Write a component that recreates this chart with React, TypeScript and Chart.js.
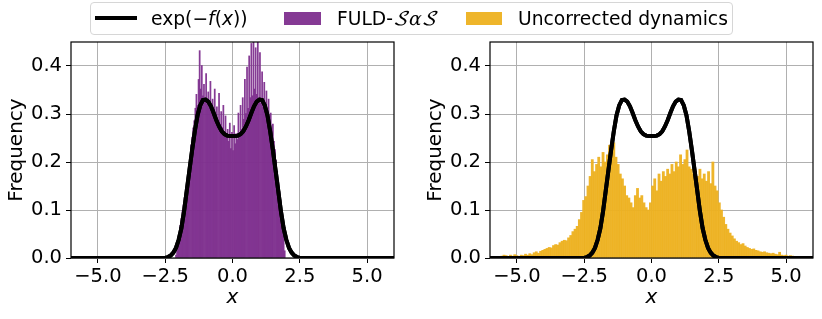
import React, { useEffect, useRef } from 'react';
import { Chart, registerables } from 'chart.js';

Chart.register(...registerables);

// ---------- data ----------
const X_TICKS = [-5, -2.5, 0, 2.5, 5];
const Y_TICKS = [0, 0.1, 0.2, 0.3, 0.4];

// exp(-f(x)) curve
const CURVE_X = [
  -6, -2.5, -2.4, -2.3, -2.2, -2.1, -2.0, -1.9, -1.8, -1.7, -1.6, -1.5, -1.4, -1.3, -1.2, -1.1,
  -1.0, -0.9, -0.8, -0.7, -0.6, -0.5, -0.4, -0.3, -0.2, -0.1, 0,
  0.1, 0.2, 0.3, 0.4, 0.5, 0.6, 0.7, 0.8, 0.9, 1.0, 1.1, 1.2, 1.3, 1.4, 1.5, 1.6, 1.7, 1.8,
  1.9, 2.0, 2.1, 2.2, 2.3, 2.4, 2.5, 6,
];
const CURVE_Y = [
  0, 0, 0.002, 0.005, 0.011, 0.021, 0.038, 0.062, 0.097, 0.14, 0.183, 0.225, 0.264, 0.297, 0.318, 0.329,
  0.33, 0.326, 0.316, 0.302, 0.287, 0.274, 0.264, 0.258, 0.255, 0.254, 0.254,
  0.254, 0.255, 0.258, 0.264, 0.274, 0.287, 0.302, 0.316, 0.326, 0.33, 0.329, 0.318, 0.297, 0.264, 0.225, 0.183, 0.14, 0.097,
  0.062, 0.038, 0.021, 0.011, 0.005, 0.002, 0, 0,
];

// FULD-SαS histogram (bin centres start at -2.10, width 0.04)
const FULD_FIRST_CENTER = -2.1;
const FULD_BIN_WIDTH = 0.04;
const FULD_FREQ = [
  0.006, 0.016, 0.031, 0.047, 0.068, 0.083, 0.099, 0.111, 0.126, 0.136,
  0.149, 0.167, 0.192, 0.208, 0.236, 0.252, 0.271, 0.286, 0.312, 0.341,
  0.318, 0.372, 0.432, 0.352, 0.401, 0.338, 0.362, 0.329, 0.384, 0.321,
  0.346, 0.312, 0.368, 0.303, 0.331, 0.298, 0.352, 0.292, 0.315, 0.288,
  0.343, 0.279, 0.305, 0.272, 0.318, 0.262, 0.296, 0.251, 0.268, 0.243,
  0.281, 0.228, 0.262, 0.224, 0.276, 0.238, 0.259, 0.247, 0.302, 0.256,
  0.318, 0.268, 0.334, 0.289, 0.372, 0.301, 0.398, 0.312, 0.421, 0.334,
  0.447, 0.338, 0.462, 0.352, 0.438, 0.341, 0.452, 0.332, 0.428, 0.322,
  0.388, 0.314, 0.366, 0.302, 0.348, 0.291, 0.331, 0.277, 0.302, 0.262,
  0.279, 0.243, 0.226, 0.204, 0.181, 0.161, 0.139, 0.121, 0.098, 0.074,
  0.046, 0.015,
];

// Uncorrected dynamics histogram (bin centres start at -5.56, width 0.08)
const UNCORR_FIRST_CENTER = -5.56;
const UNCORR_BIN_WIDTH = 0.08;
const UNCORR_FREQ = [
  0.004, 0.006, 0.005, 0.003, 0.006, 0.004, 0.007, 0.005, 0.003, 0.006,
  0.005, 0.008, 0.006, 0.009, 0.007, 0.011, 0.013, 0.010, 0.014, 0.016,
  0.018, 0.020, 0.022, 0.021, 0.026, 0.028, 0.027, 0.032, 0.035, 0.037,
  0.036, 0.042, 0.047, 0.055, 0.060, 0.066, 0.080, 0.095, 0.120, 0.128,
  0.150, 0.170, 0.205, 0.180, 0.195, 0.210, 0.190, 0.220, 0.200, 0.215,
  0.235, 0.220, 0.240, 0.210, 0.195, 0.175, 0.165, 0.150, 0.130, 0.125,
  0.115, 0.105, 0.130, 0.145, 0.125, 0.130, 0.115, 0.105, 0.100, 0.115,
  0.150, 0.165, 0.140, 0.175, 0.160, 0.180, 0.170, 0.185, 0.175, 0.195,
  0.180, 0.200, 0.190, 0.215, 0.195, 0.205, 0.225, 0.190, 0.185, 0.175,
  0.180, 0.170, 0.185, 0.165, 0.175, 0.160, 0.180, 0.155, 0.200, 0.150,
  0.140, 0.115, 0.100, 0.085, 0.070, 0.060, 0.052, 0.046, 0.040, 0.035,
  0.032, 0.028, 0.030, 0.025, 0.022, 0.020, 0.018, 0.019, 0.016, 0.015,
  0.013, 0.012, 0.013, 0.011, 0.010, 0.009, 0.010, 0.008, 0.007, 0.012,
  0.006, 0.005, 0.006, 0.004, 0.005, 0.004, 0.003, 0.003, 0.002, 0.003,
  0.002, 0.002, 0.001, 0.002, 0.001,
];

const LABEL_FULD = 'FULD-';
const LABEL_UNCORR = 'Uncorrected dynamics';
const PURPLE = 'rgba(126,47,142,0.95)';
const ORANGE = 'rgba(237,177,32,0.95)';

const FONT_FAMILY = '"DejaVu Sans", "Liberation Sans", sans-serif';
const TICK_SIZE = 19.5;
const TITLE_SIZE = 20;
const LEGEND_SIZE = 18.7;

// ---------- chart helpers ----------
const fmt = (v: number) => (v < 0 ? '−' : '') + Math.abs(v).toFixed(1);

const framePlugin = {
  id: 'frameAndCurve',
  afterDraw(chart: any) {
    const { ctx, chartArea: a } = chart;
    ctx.save();
    ctx.beginPath();
    ctx.rect(a.left, a.top, a.right - a.left, a.bottom - a.top);
    ctx.clip();
    chart.getDatasetMeta(0).controller.draw();
    ctx.restore();
    ctx.save();
    ctx.strokeStyle = '#000';
    ctx.lineWidth = 1.2;
    ctx.strokeRect(a.left, a.top, a.right - a.left, a.bottom - a.top);
    ctx.restore();
  },
};

function makeConfig(first: number, width: number, freq: number[], color: string, rightPad: number) {
  const bars = freq.map((y, i) => ({ x: first + i * width, y }));
  const curve = CURVE_X.map((x, i) => ({ x, y: CURVE_Y[i] }));
  const tickFont = { family: FONT_FAMILY, size: TICK_SIZE };
  return {
    type: 'bar',
    data: {
      datasets: [
        {
          type: 'line',
          data: curve,
          borderColor: '#000',
          borderWidth: 4,
          pointRadius: 0,
          tension: 0,
          clip: 0,
          order: 0,
        },
        {
          type: 'bar',
          data: bars,
          backgroundColor: color,
          borderWidth: 0,
          barPercentage: 1,
          categoryPercentage: 1,
          grouped: false,
          order: 1,
        },
      ],
    },
    options: {
      animation: false,
      responsive: false,
      maintainAspectRatio: false,
      events: [],
      layout: { padding: { left: 0, top: 42, right: rightPad, bottom: 0 } },
      plugins: { legend: { display: false }, tooltip: { enabled: false } },
      scales: {
        x: {
          type: 'linear',
          min: -6,
          max: 6,
          offset: false,
          z: 1,
          afterBuildTicks: (s: any) => {
            s.ticks = X_TICKS.map((v) => ({ value: v }));
          },
          afterFit: (s: any) => {
            s.height = 61;
          },
          grid: { color: '#b0b0b0', lineWidth: 1, tickLength: 5, tickColor: '#000', offset: false },
          border: { display: false },
          ticks: { font: tickFont, color: '#000', padding: 2, maxRotation: 0, autoSkip: false, callback: (v: number) => fmt(v) },
          title: {
            display: true,
            text: 'x',
            color: '#000',
            font: { family: FONT_FAMILY, size: TITLE_SIZE, style: 'italic' },
            padding: { top: 0, bottom: 9 },
          },
        },
        y: {
          type: 'linear',
          min: 0,
          max: 0.45,
          z: 1,
          afterBuildTicks: (s: any) => {
            s.ticks = Y_TICKS.map((v) => ({ value: v }));
          },
          afterFit: (s: any) => {
            s.width = 71;
          },
          grid: { color: '#b0b0b0', lineWidth: 1, tickLength: 5, tickColor: '#000' },
          border: { display: false },
          ticks: { font: tickFont, color: '#000', padding: 4, autoSkip: false, callback: (v: number) => fmt(v) },
          title: {
            display: true,
            text: 'Frequency',
            color: '#000',
            font: { family: FONT_FAMILY, size: TITLE_SIZE },
            padding: { top: 5, bottom: 0 },
          },
        },
      },
    },
    plugins: [framePlugin],
  };
}

function Panel(props: { left: number; width: number; cfg: any }) {
  const ref = useRef<HTMLCanvasElement | null>(null);
  useEffect(() => {
    const chart = new Chart(ref.current as HTMLCanvasElement, props.cfg);
    return () => chart.destroy();
  }, []);
  return (
    <canvas
      ref={ref}
      width={props.width}
      height={319}
      style={{ position: 'absolute', left: props.left, top: 0, width: props.width, height: 319 }}
    />
  );
}

export default function App() {
  const leftCfg = makeConfig(FULD_FIRST_CENTER, FULD_BIN_WIDTH, FULD_FREQ, PURPLE, 17);
  const rightCfg = makeConfig(UNCORR_FIRST_CENTER, UNCORR_BIN_WIDTH, UNCORR_FREQ, ORANGE, 9);
  const textStyle: React.CSSProperties = {
    position: 'absolute',
    top: 0,
    lineHeight: '31px',
    whiteSpace: 'nowrap',
    color: '#000',
  };
  return (
    <div
      style={{
        position: 'absolute',
        left: 0,
        top: 0,
        width: 822,
        height: 319,
        background: '#fff',
        overflow: 'hidden',
        fontFamily: FONT_FAMILY,
        fontSize: LEGEND_SIZE,
      }}
    >
      <Panel left={0} width={411} cfg={leftCfg} />
      <Panel left={419} width={403} cfg={rightCfg} />
      <div
        style={{
          position: 'absolute',
          left: 90,
          top: 2,
          width: 643,
          height: 33,
          boxSizing: 'border-box',
          border: '1px solid #d6d6d6',
          borderRadius: 4,
          background: 'rgba(255,255,255,0.8)',
          zIndex: 2,
        }}
      >
        <div style={{ position: 'absolute', left: 4, top: 13, width: 42, height: 4, background: '#000' }} />
        <div style={{ ...textStyle, left: 60 }}>
          exp(−<i>f</i>(<i>x</i>))
        </div>
        <div style={{ position: 'absolute', left: 193, top: 9, width: 37, height: 13, background: PURPLE }} />
        <div style={{ ...textStyle, left: 246 }}>
          {LABEL_FULD}
          <i style={{ fontFamily: '"DejaVu Math TeX Gyre", "DejaVu Sans", serif' }}>𝒮α𝒮</i>
        </div>
        <div style={{ position: 'absolute', left: 375, top: 9, width: 36, height: 13, background: ORANGE }} />
        <div style={{ ...textStyle, left: 427 }}>{LABEL_UNCORR}</div>
      </div>
    </div>
  );
}
